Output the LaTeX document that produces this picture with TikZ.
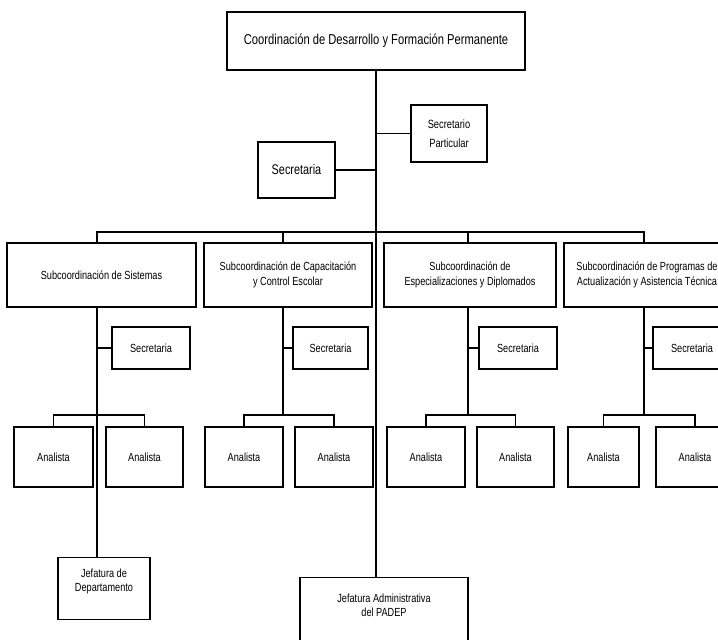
\documentclass[tikz,border=0pt]{standalone}
\usepackage{fontspec}
\setmainfont{Liberation Sans}[FakeStretch=0.78]
\begin{document}
\begin{tikzpicture}[x=1bp, y=-1bp,
    block/.style={rectangle, draw, line width=1.4pt, inner sep=1pt, align=center, font=\fontsize{11.8}{15}\selectfont},
    line/.style={draw, line width=1.1pt}
]
    \useasboundingbox (0,0) rectangle (718,640);

    \node [block, minimum width=298bp, minimum height=58bp, font=\fontsize{14.4}{17}\selectfont] (coord) at (376,41) {Coordinación de Desarrollo y Formación Permanente};
    \node [block, minimum width=76bp, minimum height=57bp, font=\fontsize{12}{19}\selectfont] (secpart) at (449,133.5) {Secretario\\Particular};
    \node [block, minimum width=77bp, minimum height=56bp, font=\fontsize{14}{17}\selectfont] (secr) at (296.5,170) {Secretaria};

    \node [block, minimum width=189bp, minimum height=64bp] (sub1) at (101.5,275) {Subcoordinación de Sistemas};
    \node [block, minimum width=168bp, minimum height=64bp] (sub2) at (288,275) {Subcoordinación de Capacitación\\y Control Escolar};
    \node [block, minimum width=172bp, minimum height=64bp] (sub3) at (470,275) {Subcoordinación de\\Especializaciones y Diplomados};
    \node [block, minimum width=166bp, minimum height=64bp] (sub4) at (647,275) {Subcoordinación de Programas de\\Actualización y Asistencia Técnica};

    \node [block, minimum width=78bp, minimum height=42bp] (sec1) at (151,348) {Secretaria};
    \node [block, minimum width=75bp, minimum height=42bp] (sec2) at (330.5,348) {Secretaria};
    \node [block, minimum width=78bp, minimum height=42bp] (sec3) at (518,348) {Secretaria};
    \node [block, minimum width=78bp, minimum height=42bp] (sec4) at (692,348) {Secretaria};

    \node [block, minimum width=79bp, minimum height=60bp] (an11) at (53.5,457) {Analista};
    \node [block, minimum width=77bp, minimum height=60bp] (an12) at (144.5,457) {Analista};
    \node [block, minimum width=78bp, minimum height=60bp] (an21) at (244,457) {Analista};
    \node [block, minimum width=78bp, minimum height=60bp] (an22) at (334,457) {Analista};
    \node [block, minimum width=78bp, minimum height=60bp] (an31) at (426,457) {Analista};
    \node [block, minimum width=77bp, minimum height=60bp] (an32) at (515.5,457) {Analista};
    \node [block, minimum width=71bp, minimum height=60bp] (an41) at (603.5,457) {Analista};
    \node [block, minimum width=78bp, minimum height=60bp] (an42) at (695,457) {Analista};

    \node [block, anchor=north, minimum width=92bp, text height=33bp, text depth=27bp, font=\fontsize{11.8}{14}\selectfont] (jdep) at (104,557) {Jefatura de\\Departamento};
    \node [block, anchor=north, minimum width=168bp, text height=38bp, text depth=34bp, font=\fontsize{11.8}{14}\selectfont] (jadm) at (384,577) {Jefatura Administrativa\\del PADEP};

    % branch points
    \coordinate (c1) at (97,232);
    \coordinate (c2) at (283,232);
    \coordinate (c3) at (468,232);
    \coordinate (c4) at (644,232);
    \coordinate (ab1) at (97,415);
    \coordinate (ab2) at (283,415);
    \coordinate (ab3) at (468,415);
    \coordinate (ab4) at (644,415);

    \draw [line] (coord.south) -- (coord.south |- jadm.north);
    \draw [line] (coord.south |- secpart.west) -- (secpart.west);
    \draw [line] (secr.east) -- (secr.east -| coord.south);

    \draw [line] (c1 |- sub1.north) -- (c1) -- (c4) -- (c4 |- sub4.north);
    \draw [line] (c2) -- (c2 |- sub2.north);
    \draw [line] (c3) -- (c3 |- sub3.north);

    \draw [line] (c1 |- sub1.south) -- (c1 |- jdep.north);
    \draw [line] (c2 |- sub2.south) -- (ab2);
    \draw [line] (c3 |- sub3.south) -- (ab3);
    \draw [line] (c4 |- sub4.south) -- (ab4);

    \draw [line] (c1 |- sec1.west) -- (sec1.west);
    \draw [line] (c2 |- sec2.west) -- (sec2.west);
    \draw [line] (c3 |- sec3.west) -- (sec3.west);
    \draw [line] (c4 |- sec4.west) -- (sec4.west);

    \draw [line] (an11.north) |- (ab1) -| (an12.north);
    \draw [line] (an21.north) |- (ab2) -| (an22.north);
    \draw [line] (an31.north) |- (ab3) -| (an32.north);
    \draw [line] (an41.north) |- (ab4) -| (an42.north);
\end{tikzpicture}
\end{document}
